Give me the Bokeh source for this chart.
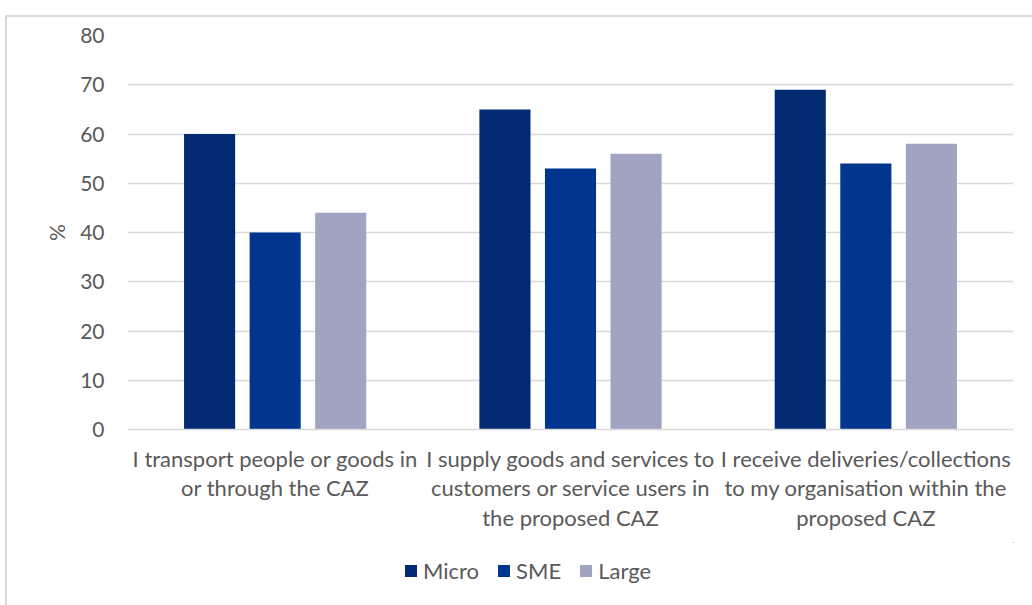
from bokeh.plotting import figure
from bokeh.models import Range1d, Legend, LegendItem, ColumnDataSource
from bokeh.layouts import column
from bokeh.transform import dodge
from bokeh.embed import file_html
from bokeh.resources import INLINE

categories = [
    "I transport people or goods in\nor through the CAZ",
    "I supply goods and services to\ncustomers or service users in\nthe proposed CAZ",
    "I receive deliveries/collections\nto my organisation within the\nproposed CAZ",
]
series = ["Micro", "SME", "Large"]
micro = [60, 65, 69]
sme = [40, 53, 54]
large = [44, 56, 58]
y_ticks = [0, 10, 20, 30, 40, 50, 60, 70, 80]

colors = ["#012A73", "#003590", "#A1A4C0"]
FONT = "Lato"
TXT = "#595959"

src = ColumnDataSource(dict(cat=categories, Micro=micro, SME=sme, Large=large))

p = figure(x_range=categories, y_range=Range1d(0, 80), width=1025, height=525,
           output_backend="svg", toolbar_location=None,
           min_border_left=120, min_border_right=19, min_border_top=18, min_border_bottom=113)
p.outline_line_color = None
p.xgrid.grid_line_color = None
p.ygrid.grid_line_color = "#d9d9d9"
p.ygrid.grid_line_width = 1.3
p.yaxis.ticker = y_ticks
p.yaxis.axis_line_color = None
p.yaxis.major_tick_line_color = None
p.yaxis.minor_tick_line_color = None
p.yaxis.major_label_standoff = 17
p.yaxis.major_label_text_font = FONT
p.yaxis.major_label_text_font_size = "21px"
p.yaxis.major_label_text_color = TXT
p.yaxis.axis_label = "%"
p.yaxis.axis_label_text_font = FONT
p.yaxis.axis_label_text_font_size = "21px"
p.yaxis.axis_label_text_font_style = "normal"
p.yaxis.axis_label_text_color = TXT
p.yaxis.axis_label_standoff = 8

p.xaxis.axis_line_color = "#d9d9d9"
p.xaxis.axis_line_width = 1.5
p.xaxis.major_tick_line_color = None
p.xaxis.minor_tick_line_color = None
p.xaxis.major_label_standoff = 9
p.xaxis.major_label_text_font = FONT
p.xaxis.major_label_text_font_size = "22px"
p.xaxis.major_label_text_color = TXT
p.xaxis.major_label_text_line_height = 1.1

offsets = [-0.222, 0.0, 0.222]
for s, off, c in zip(series, offsets, colors):
    p.vbar(x=dodge("cat", off, range=p.x_range), top=s, width=0.173, source=src,
           fill_color=c, line_color=None)

# legend strip below the chart (its swatch renderers use the same data,
# but lie outside this strip's ranges so only the legend is seen)
p2 = figure(width=1025, height=63, x_range=Range1d(-2, -1), y_range=Range1d(-2, -1),
            output_backend="svg", toolbar_location=None,
            min_border_left=0, min_border_right=0, min_border_top=0, min_border_bottom=0)
p2.axis.visible = False
p2.grid.visible = False
p2.outline_line_color = None
items = []
for s, c in zip(series, colors):
    r = p2.vbar(x=s, top=s, width=1, source=src, fill_color=c, line_color=None)
    items.append(LegendItem(label=s, renderers=[r]))
legend = Legend(items=items, orientation="horizontal", location=(276, 21),
                label_text_font=FONT, label_text_font_size="22px", label_text_color=TXT,
                glyph_width=15, glyph_height=15, label_standoff=5, spacing=17,
                padding=0, margin=0, border_line_color=None, background_fill_alpha=0)
p2.add_layout(legend, "center")

layout = column(p, p2, spacing=0)
layout.styles = {"border-left": "2px solid #d9d9d9", "border-top": "2px solid #d9d9d9",
                 "margin-top": "15px", "margin-left": "5px"}

open("out.html", "w").write(file_html(layout, INLINE))
